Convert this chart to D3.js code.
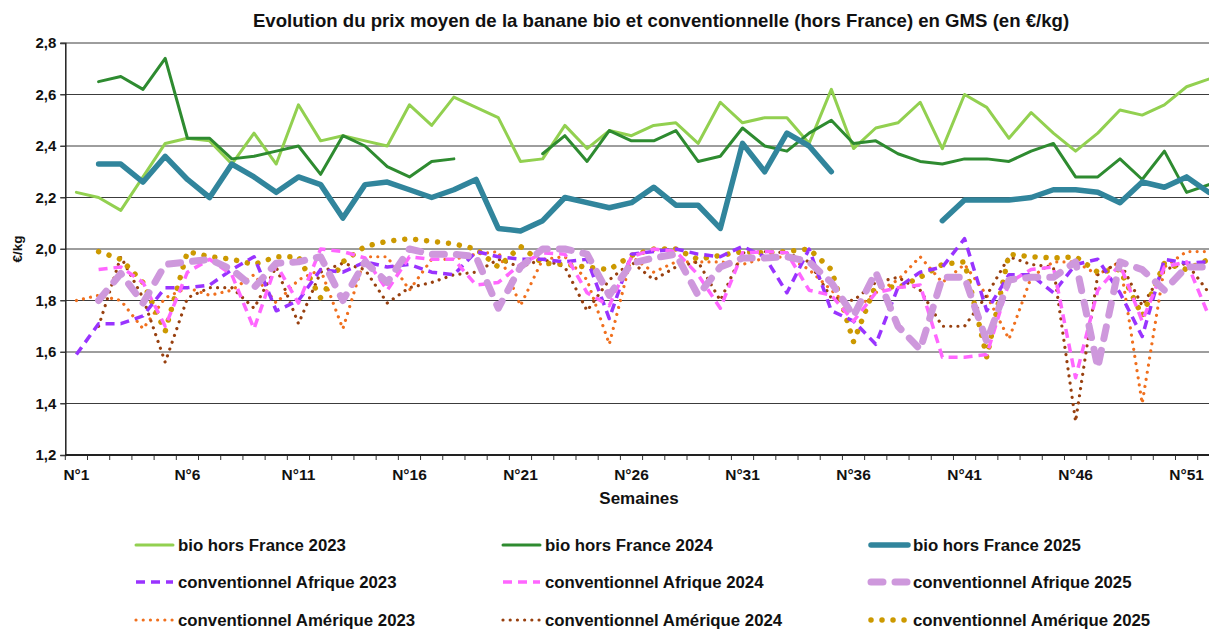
<!DOCTYPE html>
<html>
<head>
<meta charset="utf-8">
<script src="https://cdn.jsdelivr.net/npm/d3@7"></script>
<style>
  html, body { margin: 0; padding: 0; background: #fff; overflow: hidden; }
  svg { display: block; font-family: "Liberation Sans", Arial, sans-serif; }
</style>
</head>
<body>
<svg id="chart" width="1209" height="631"></svg>
<script>
// Weeks 1..52
const weeks = d3.range(1, 53);
const weekTickLabels = ["N°1", "N°6", "N°11", "N°16", "N°21", "N°26", "N°31", "N°36", "N°41", "N°46", "N°51"];
const yTicks = [1.2, 1.4, 1.6, 1.8, 2.0, 2.2, 2.4, 2.6, 2.8];

// Prices in €/kg per week (null = no data)
const bio2023 = [2.22, 2.20, 2.15, 2.28, 2.41, 2.43, 2.42, 2.33, 2.45, 2.33, 2.56, 2.42, 2.44, 2.42, 2.40, 2.56, 2.48, 2.59, 2.55, 2.51, 2.34, 2.35, 2.48, 2.39, 2.46, 2.44, 2.48, 2.49, 2.41, 2.57, 2.49, 2.51, 2.51, 2.41, 2.62, 2.39, 2.47, 2.49, 2.57, 2.39, 2.60, 2.55, 2.43, 2.53, 2.45, 2.38, 2.45, 2.54, 2.52, 2.56, 2.63, 2.66];
const bio2024 = [null, 2.65, 2.67, 2.62, 2.74, 2.43, 2.43, 2.35, 2.36, 2.38, 2.40, 2.29, 2.44, 2.40, 2.32, 2.28, 2.34, 2.35, null, null, null, 2.37, 2.44, 2.34, 2.46, 2.42, 2.42, 2.46, 2.34, 2.36, 2.47, 2.40, 2.38, 2.45, 2.50, 2.41, 2.42, 2.37, 2.34, 2.33, 2.35, 2.35, 2.34, 2.38, 2.41, 2.28, 2.28, 2.35, 2.27, 2.38, 2.22, 2.25];
const bio2025 = [null, 2.33, 2.33, 2.26, 2.36, 2.27, 2.20, 2.33, 2.28, 2.22, 2.28, 2.25, 2.12, 2.25, 2.26, 2.23, 2.20, 2.23, 2.27, 2.08, 2.07, 2.11, 2.20, 2.18, 2.16, 2.18, 2.24, 2.17, 2.17, 2.08, 2.41, 2.30, 2.45, 2.40, 2.30, null, null, null, null, 2.11, 2.19, 2.19, 2.19, 2.20, 2.23, 2.23, 2.22, 2.18, 2.26, 2.24, 2.28, 2.22];
const convAfrique2023 = [1.59, 1.71, 1.71, 1.74, 1.85, 1.85, 1.86, 1.92, 1.97, 1.76, 1.80, 1.92, 1.91, 1.95, 1.93, 1.94, 1.91, 1.90, 1.99, 1.97, 1.96, 1.96, 1.95, 1.96, 1.73, 1.98, 1.99, 2.00, 1.98, 1.97, 2.01, 1.97, 1.83, 2.00, 1.76, 1.72, 1.63, 1.85, 1.91, 1.93, 2.04, 1.76, 1.90, 1.90, 1.83, 1.94, 1.96, 1.83, 1.66, 1.96, 1.945, 1.95];
const convAfrique2024 = [null, 1.92, 1.93, 1.87, 1.70, 1.91, 1.96, 1.90, 1.69, 1.94, 1.79, 2.00, 1.99, 1.965, 1.84, 1.97, 1.96, 1.96, 1.86, 1.87, 1.94, 1.985, 1.98, 1.83, 1.78, 1.97, 2.00, 1.99, 1.90, 1.77, 1.985, 1.99, 1.985, 1.84, 1.82, 1.72, 1.83, 1.85, 1.86, 1.58, 1.58, 1.59, 1.87, 1.92, 1.93, 1.50, 1.84, 1.94, 1.72, 1.93, 1.95, 1.74];
const convAfrique2025 = [null, 1.80, 1.905, 1.79, 1.94, 1.95, 1.96, 1.92, 1.85, 1.945, 1.95, 1.97, 1.80, 1.95, 1.87, 2.00, 1.98, 1.98, 1.97, 1.77, 1.93, 2.00, 2.00, 1.98, 1.82, 1.945, 1.965, 1.98, 1.82, 1.93, 1.965, 1.965, 1.97, 1.95, 1.87, 1.74, 1.91, 1.70, 1.61, 1.89, 1.89, 1.64, 1.88, 1.89, 1.89, 1.95, 1.54, 1.95, 1.92, 1.84, 1.93, 1.93];
const convAmerique2023 = [1.80, 1.82, 1.80, 1.69, 1.81, 1.85, 1.82, 1.84, 1.90, 1.79, 1.88, 1.92, 1.69, 1.97, 1.97, 1.84, 1.96, 1.96, 1.98, 1.99, 1.78, 1.96, 1.97, 1.88, 1.63, 1.97, 1.91, 1.95, 1.95, 1.95, 1.94, 1.965, 1.97, 1.92, 1.84, 1.76, 1.83, 1.88, 1.97, 1.87, 1.94, 1.82, 1.65, 1.89, 1.95, 1.95, 1.90, 1.95, 1.40, 1.93, 1.99, 1.99];
const convAmerique2024 = [null, 1.70, 1.97, 1.81, 1.56, 1.81, 1.85, 1.85, 1.77, 1.93, 1.71, 1.91, 1.945, 1.92, 1.79, 1.85, 1.87, 1.90, 1.91, 1.96, 1.93, 1.96, 1.93, 1.76, 1.88, 1.95, 1.88, 1.93, 1.95, 1.80, 1.985, 1.99, 1.985, 1.95, 1.81, 1.80, 1.87, 1.89, 1.84, 1.70, 1.70, 1.82, 1.97, 1.94, 1.93, 1.33, 1.90, 1.95, 1.78, 1.92, 1.945, 1.83];
const convAmerique2025 = [null, 1.99, 1.96, 1.87, 1.68, 1.99, 1.97, 1.96, 1.94, 1.97, 1.97, 1.81, 1.95, 2.01, 2.03, 2.04, 2.03, 2.02, 2.00, 1.93, 2.01, 1.945, 1.94, 1.93, 1.92, 1.975, 2.00, 2.00, 1.96, 1.975, 1.99, 1.985, 1.99, 2.00, 1.92, 1.64, 1.86, 1.85, 1.89, 1.94, 1.95, 1.58, 1.98, 1.97, 1.965, 1.97, 1.91, 1.92, 1.74, 1.945, 1.92, 1.96];

// Series styling, in drawing order
const series = [
  { name: "conventionnel Amérique 2023", values: convAmerique2023, color: "#F0701E", width: 3.2, dash: "0.01 7.2", cap: "round" },
  { name: "conventionnel Amérique 2024", values: convAmerique2024, color: "#98400F", width: 3.2, dash: "0.01 7.2", cap: "round" },
  { name: "conventionnel Amérique 2025", values: convAmerique2025, color: "#CC9900", width: 5.5, dash: "0.01 11", cap: "round" },
  { name: "conventionnel Afrique 2023", values: convAfrique2023, color: "#9933FF", width: 3.5, dash: "9 6", cap: "butt" },
  { name: "conventionnel Afrique 2024", values: convAfrique2024, color: "#FF66FF", width: 3.5, dash: "9 6", cap: "butt" },
  { name: "conventionnel Afrique 2025", values: convAfrique2025, color: "#CE98DC", width: 7, dash: "12 12", cap: "round" },
  { name: "bio hors France 2023", values: bio2023, color: "#92D050", width: 3, dash: null, cap: "round" },
  { name: "bio hors France 2024", values: bio2024, color: "#2E8B30", width: 3, dash: null, cap: "round" },
  { name: "bio hors France 2025", values: bio2025, color: "#31859C", width: 5.5, dash: null, cap: "round" }
];

const legendOrder = [
  "bio hors France 2023", "bio hors France 2024", "bio hors France 2025",
  "conventionnel Afrique 2023", "conventionnel Afrique 2024", "conventionnel Afrique 2025",
  "conventionnel Amérique 2023", "conventionnel Amérique 2024", "conventionnel Amérique 2025"
];

const svg = d3.select("#chart");
const plot = { left: 65.3, right: 1219.9, top: 43, bottom: 455 };

const x = d3.scaleBand().domain(weeks).range([plot.left, plot.right]).padding(0);
const y = d3.scaleLinear().domain([1.2, 2.8]).range([plot.bottom, plot.top]);
const cx = w => x(w) + x.bandwidth() / 2;

// Title
svg.append("text")
  .attr("x", 661).attr("y", 27)
  .attr("text-anchor", "middle")
  .attr("font-size", 18.6).attr("font-weight", "bold").attr("fill", "#111")
  .text("Evolution du prix moyen de la banane bio et conventionnelle (hors France) en GMS (en €/kg)");

// Horizontal gridlines
svg.append("g")
  .selectAll("line")
  .data(yTicks.filter(t => t > 1.2))
  .join("line")
  .attr("x1", plot.left - 5).attr("x2", plot.right)
  .attr("y1", d => y(d)).attr("y2", d => y(d))
  .attr("stroke", "#3c3c3c").attr("stroke-width", 1);

// Y axis
const yAxis = d3.axisLeft(y).tickValues(yTicks).tickSize(5).tickPadding(4)
  .tickFormat(d => d3.format(".1f")(d).replace(".", ","));
const gy = svg.append("g").attr("transform", `translate(${plot.left},0)`).call(yAxis);
gy.select(".domain").attr("stroke", "#222").attr("stroke-width", 1.5);
gy.selectAll(".tick line").attr("stroke", "#3c3c3c");
gy.selectAll(".tick text").attr("font-size", 15).attr("font-weight", "bold").attr("fill", "#111")
  .attr("font-family", "'Liberation Sans', Arial, sans-serif");

// X axis: ticks between weeks, labels every 5 weeks
const boundaries = d3.range(0, 53);
svg.append("g").selectAll("line")
  .data(boundaries)
  .join("line")
  .attr("x1", i => plot.left + i * x.bandwidth())
  .attr("x2", i => plot.left + i * x.bandwidth())
  .attr("y1", plot.bottom).attr("y2", plot.bottom + 5)
  .attr("stroke", "#333").attr("stroke-width", 1);
svg.append("line")
  .attr("x1", plot.left).attr("x2", plot.right)
  .attr("y1", plot.bottom).attr("y2", plot.bottom)
  .attr("stroke", "#222").attr("stroke-width", 1.8);

const labelWeeks = weekTickLabels.map(s => +s.replace("N°", ""));
svg.append("g").selectAll("text")
  .data(weekTickLabels)
  .join("text")
  .attr("x", (d, i) => cx(labelWeeks[i]))
  .attr("y", 480)
  .attr("text-anchor", "middle")
  .attr("font-size", 15.5).attr("font-weight", "bold").attr("fill", "#111")
  .text(d => d);

// Axis titles
svg.append("text")
  .attr("x", 639).attr("y", 504)
  .attr("text-anchor", "middle")
  .attr("font-size", 17).attr("font-weight", "bold").attr("fill", "#111")
  .text("Semaines");
svg.append("text")
  .attr("transform", "translate(22,249) rotate(-90)")
  .attr("text-anchor", "middle")
  .attr("font-size", 13.5).attr("font-weight", "bold").attr("fill", "#111")
  .text("€/kg");

// Series lines
const line = d3.line()
  .defined(d => d.v !== null)
  .x(d => cx(d.w))
  .y(d => y(d.v));

const gLines = svg.append("g");
series.forEach(s => {
  const pts = weeks.map((w, i) => ({ w, v: s.values[i] }));
  gLines.append("path")
    .datum(pts)
    .attr("d", line)
    .attr("fill", "none")
    .attr("stroke", s.color)
    .attr("stroke-width", s.width)
    .attr("stroke-linejoin", "round")
    .attr("stroke-linecap", s.cap)
    .attr("stroke-dasharray", s.dash);
});

// Legend: 3 columns x 3 rows
const legendCols = [133, 500, 868];
const legendRows = [545, 582, 620];
const gLegend = svg.append("g");
legendOrder.forEach((name, i) => {
  const s = series.find(d => d.name === name);
  const lx = legendCols[i % 3];
  const ly = legendRows[Math.floor(i / 3)];
  gLegend.append("line")
    .attr("x1", lx + 3).attr("x2", lx + 40)
    .attr("y1", ly).attr("y2", ly)
    .attr("stroke", s.color)
    .attr("stroke-width", s.width)
    .attr("stroke-linecap", s.cap)
    .attr("stroke-dasharray", s.dash);
  gLegend.append("text")
    .attr("x", lx + 45).attr("y", ly + 6)
    .attr("font-size", 16.8).attr("font-weight", "bold").attr("fill", "#111")
    .text(name);
});
</script>
</body>
</html>
